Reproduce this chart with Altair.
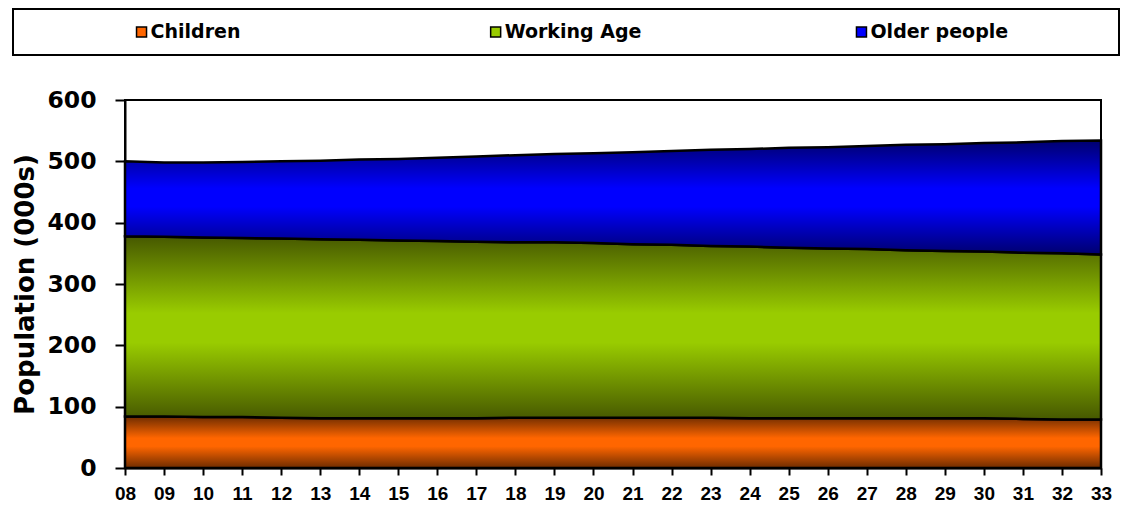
import altair as alt
import pandas as pd

years = list(range(8, 34))
children = [84, 84, 83, 83, 82, 81, 81, 81, 81, 81, 82, 82, 82, 82, 82, 82, 81, 81, 81, 81, 81, 81, 81, 80, 79, 79]
working = [294, 293, 293, 292, 292, 292, 291, 290, 289, 288, 286, 286, 285, 283, 282, 280, 280, 278, 277, 276, 274, 273, 272, 271, 271, 269]
older = [122, 121, 122, 124, 126, 128, 131, 133, 136, 139, 142, 144, 146, 150, 153, 157, 159, 163, 165, 168, 172, 174, 177, 180, 183, 186]

series_names = ["Children", "Working Age", "Older people"]
series_colors = ["#FF6600", "#99CC00", "#0000FF"]
y_ticks = [0, 100, 200, 300, 400, 500, 600]

df = pd.DataFrame({"year": years, "children": children, "working": working, "older": older})


def grad(dark, bright):
    return alt.Gradient(
        gradient="linear",
        stops=[
            alt.GradientStop(color=dark, offset=0),
            alt.GradientStop(color=bright, offset=0.42),
            alt.GradientStop(color=bright, offset=0.58),
            alt.GradientStop(color=dark, offset=1),
        ],
        x1=0, x2=0, y1=0, y2=1,
    )


W, H = 976, 368

x_enc = alt.X(
    "year:Q",
    scale=alt.Scale(domain=[8, 33], nice=False, zero=False),
    axis=alt.Axis(
        values=years, labelExpr="format(datum.value, '02d')", title=None,
        labelFont="Liberation Sans", labelFontWeight="bold", labelFontSize=19,
        labelColor="black", labelPadding=9, tickSize=7, tickWidth=2, tickColor="black",
        domainColor="black", domainWidth=2, grid=False, labelFlush=False,
    ),
)


def y_enc(field):
    return alt.Y(
        field + ":Q",
        scale=alt.Scale(domain=[0, 600], nice=False),
        axis=alt.Axis(
            values=y_ticks, title="Population (000s)", titleFont="DejaVu Sans",
            titleFontWeight="bold", titleFontSize=26, titleColor="black", titlePadding=8,
            labelFont="DejaVu Sans", labelFontWeight="bold", labelFontSize=23.5,
            labelColor="black", labelPadding=19, tickSize=10, tickWidth=2, tickColor="black",
            domainColor="black", domainWidth=2, grid=False,
        ),
    )


base = alt.Chart(df).transform_calculate(
    c0="0",
    c1="datum.children",
    w1="datum.children + datum.working",
    o1="datum.children + datum.working + datum.older",
)

layers = []
specs = [("c0", "c1", "#6E2C00", "#FF6600"), ("c1", "w1", "#465800", "#99CC00"), ("w1", "o1", "#00006E", "#0000FF")]
for lo, hi, dark, bright in specs:
    layers.append(
        base.mark_area(color=grad(dark, bright), stroke="black", strokeWidth=2.5, opacity=1)
        .encode(x=x_enc, y=y_enc(lo), y2=alt.Y2(hi + ":Q"))
    )

main = alt.layer(*layers)

# legend box geometry (pixels relative to the plot origin)
BOX_L, BOX_R, BOX_T, BOX_B = -112, 994, -91, -45
BOX_W = BOX_R - BOX_L
unit = BOX_W / 3.0
d0 = -0.5 - BOX_L / unit
d1 = d0 + W / unit
leg_y = (BOX_T + BOX_B) / 2

leg_df = pd.DataFrame({"name": series_names, "idx": [0, 1, 2], "color": series_colors})
leg_base = alt.Chart(leg_df).transform_calculate(
    start="datum.idx - (length(datum.name) * 11.7 / 2 - 3 * datum.idx) / %f" % unit,
    mx="datum.idx - (length(datum.name) * 11.7 / 2 - 3 * datum.idx + 9) / %f" % unit,
)
lx_scale = alt.Scale(domain=[d0, d1], nice=False, zero=False)

leg_box = alt.Chart(leg_df).transform_filter("datum.idx == 0").mark_rect(
    fill="white", stroke="black", strokeWidth=2
).encode(x=alt.value(BOX_L), x2=alt.value(BOX_R), y=alt.value(BOX_T), y2=alt.value(BOX_B))

leg_text = leg_base.mark_text(
    align="left", baseline="middle", font="DejaVu Sans", fontWeight="bold", fontSize=19, color="black"
).encode(x=alt.X("start:Q", scale=lx_scale, axis=None), y=alt.value(leg_y), text="name:N")
leg_sq = leg_base.mark_square(size=100, filled=True, stroke="black", strokeWidth=1.5, opacity=1).encode(
    x=alt.X("mx:Q", scale=lx_scale, axis=None),
    y=alt.value(leg_y),
    color=alt.Color("color:N", scale=None, legend=None),
)
legend = alt.layer(leg_box, leg_sq, leg_text)

chart = (
    alt.layer(main, legend)
    .resolve_scale(x="independent")
    .properties(width=W, height=H, padding={"left": 4, "top": 0, "right": 0, "bottom": 0})
    .configure(background="white")
    .configure_view(stroke="black", strokeWidth=2)
)

chart.save("out.html", embed_options={"renderer": "svg", "actions": False})
